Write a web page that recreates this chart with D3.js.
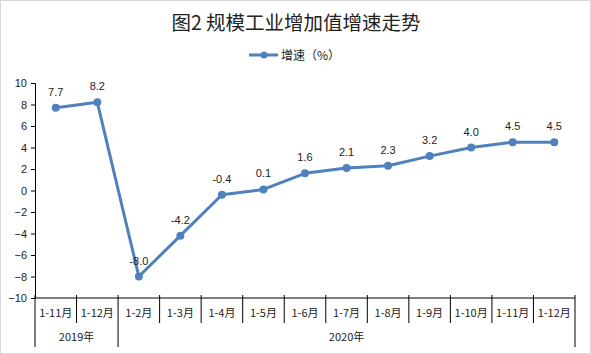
<!DOCTYPE html>
<html>
<head>
<meta charset="utf-8">
<script src="https://cdn.jsdelivr.net/npm/d3@7"></script>
<style>
  body { margin: 0; background: #fff; }
  svg { font-family: "Noto Sans CJK SC", "Liberation Sans", sans-serif; }
</style>
</head>
<body>
<svg id="chart"></svg>
<script>
(function() {

// ---------- data ----------
const months = ["1-11月", "1-12月", "1-2月", "1-3月", "1-4月", "1-5月", "1-6月",
                "1-7月", "1-8月", "1-9月", "1-10月", "1-11月", "1-12月"];
const growth = [7.7, 8.2, -8.0, -4.2, -0.4, 0.1, 1.6, 2.1, 2.3, 3.2, 4.0, 4.5, 4.5];
const years = [
  { label: "2019年", from: 0, to: 2 },
  { label: "2020年", from: 2, to: 13 }
];
const yTicks = d3.range(-10, 11, 2);

const width = 591;
const height = 354;
const margin = { left: 35, right: 16, top: 83, bottom: 56 };

const svg = d3.select("#chart")
  .attr("width", width)
  .attr("height", height);

// outer frame
svg.append("rect")
  .attr("x", 0.5).attr("y", 0.5)
  .attr("width", width - 1).attr("height", height - 1)
  .attr("fill", "#fff")
  .attr("stroke", "#d9d9d9");

// title + legend
svg.append("text")
  .attr("x", 296).attr("y", 30)
  .attr("text-anchor", "middle")
  .attr("font-size", 19.5)
  .attr("fill", "#222")
  .text("图2\u00a0规模工业增加值增速走势");

const lineColor = "#4f81bd";
svg.append("line")
  .attr("x1", 249).attr("x2", 278)
  .attr("y1", 55).attr("y2", 55)
  .attr("stroke", lineColor).attr("stroke-width", 3);
svg.append("circle")
  .attr("cx", 264).attr("cy", 55).attr("r", 3.5)
  .attr("fill", lineColor);
svg.append("text")
  .attr("x", 281).attr("y", 60)
  .attr("font-size", 12)
  .attr("fill", "#222")
  .text("增速（%）");

// ---------- scales ----------
const x = d3.scaleBand()
  .domain(d3.range(months.length))
  .range([margin.left, width - margin.right]);

const y = d3.scaleLinear()
  .domain([-10, 10])
  .range([height - margin.bottom, margin.top]);

// y axis
const yAxis = svg.append("g")
  .attr("transform", `translate(${margin.left},0)`)
  .call(d3.axisLeft(y).tickValues(yTicks).tickSize(4).tickPadding(4));
yAxis.selectAll("text")
  .attr("font-size", 11)
  .attr("font-family", "Liberation Sans, sans-serif")
  .attr("fill", "#222");
yAxis.select(".domain").attr("stroke", "#000");

// x axis line and category dividers
const x0 = y(-10);
svg.append("line")
  .attr("x1", margin.left).attr("x2", width - margin.right)
  .attr("y1", x0).attr("y2", x0)
  .attr("stroke", "#000");

const bounds = d3.range(months.length + 1);
const groupEdges = new Set(years.flatMap(d => [d.from, d.to]));
svg.append("g")
  .selectAll("line")
  .data(bounds)
  .join("line")
    .attr("x1", i => i < months.length ? x(i) : x.range()[1])
    .attr("x2", i => i < months.length ? x(i) : x.range()[1])
    .attr("y1", x0 - 3)
    .attr("y2", i => groupEdges.has(i) ? height - 7 : x0 + 25)
    .attr("stroke", "#000");

svg.append("g")
  .selectAll("text")
  .data(months)
  .join("text")
    .attr("x", (d, i) => x(i) + x.bandwidth() / 2)
    .attr("y", x0 + 19)
    .attr("text-anchor", "middle")
    .attr("font-size", 11)
    .attr("fill", "#222")
    .text(d => d);

svg.append("g")
  .selectAll("text")
  .data(years)
  .join("text")
    .attr("x", d => (x(d.from) + (d.to < months.length ? x(d.to) : x.range()[1])) / 2)
    .attr("y", x0 + 43)
    .attr("text-anchor", "middle")
    .attr("font-size", 11)
    .attr("fill", "#222")
    .text(d => d.label);

// ---------- series ----------
const cx = i => x(i) + x.bandwidth() / 2;
const line = d3.line()
  .x((d, i) => cx(i))
  .y(d => y(d));

svg.append("path")
  .datum(growth)
  .attr("d", line)
  .attr("fill", "none")
  .attr("stroke", lineColor)
  .attr("stroke-width", 3)
  .attr("stroke-linejoin", "round");

svg.append("g")
  .selectAll("circle")
  .data(growth)
  .join("circle")
    .attr("cx", (d, i) => cx(i))
    .attr("cy", d => y(d))
    .attr("r", 4)
    .attr("fill", lineColor);

svg.append("g")
  .selectAll("text")
  .data(growth)
  .join("text")
    .attr("x", (d, i) => cx(i))
    .attr("y", d => y(d) - 12)
    .attr("text-anchor", "middle")
    .attr("font-size", 11)
    .attr("font-family", "Liberation Sans, sans-serif")
    .attr("fill", "#222")
    .text(d => d.toFixed(1));

})();
</script>
</body>
</html>
